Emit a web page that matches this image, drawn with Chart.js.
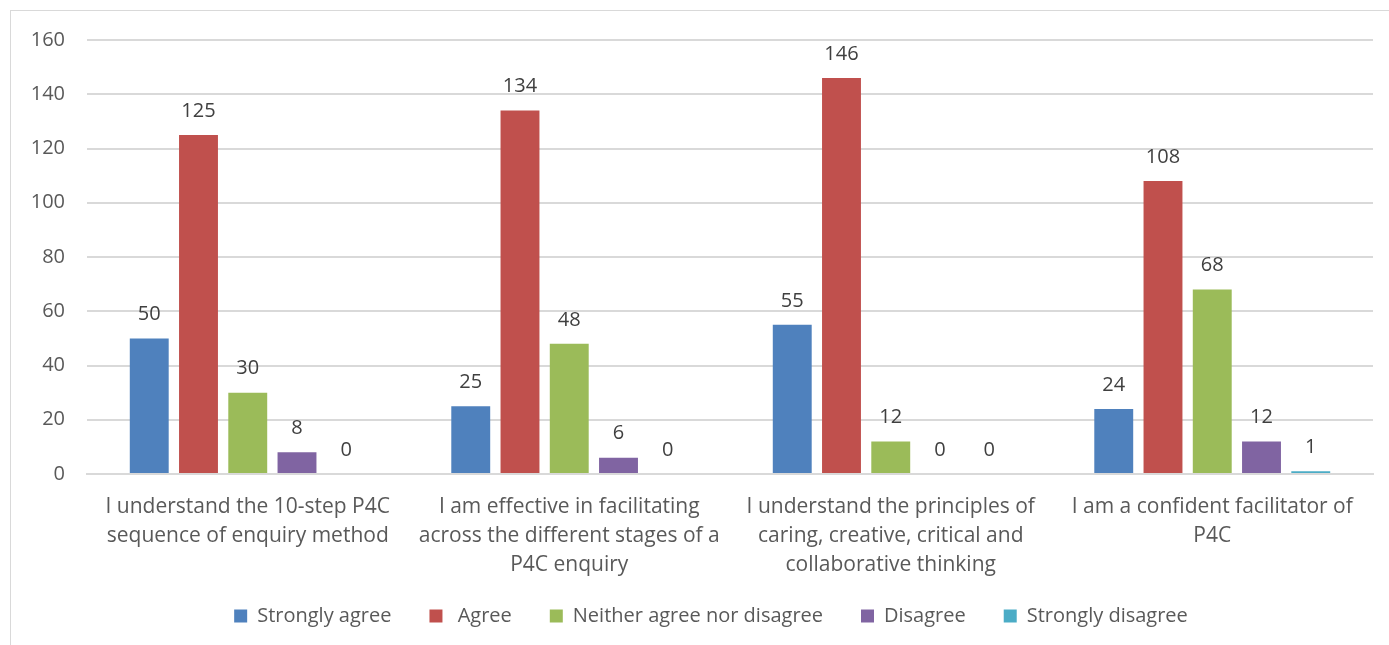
<!DOCTYPE html>
<html><head><meta charset="utf-8">
<script src="https://cdn.jsdelivr.net/npm/chart.js@4"></script>
<style>
html,body{margin:0;padding:0;background:#fff;}
#wrap{position:absolute;left:10px;top:10px;width:1379px;height:635px;border:1px solid #d9d9d9;border-right:none;border-bottom:none;box-sizing:border-box;}
canvas{display:block;}
</style></head><body>
<div id="wrap"><canvas id="c"></canvas></div>
<script>
const categories = [
  ["I understand the 10-step P4C","sequence of enquiry method"],
  ["I am effective in facilitating","across the different stages of a","P4C enquiry"],
  ["I understand the principles of","caring, creative, critical and","collaborative thinking"],
  ["I am a confident facilitator of","P4C"]
];
const seriesNames = ["Strongly agree","Agree","Neither agree nor disagree","Disagree","Strongly disagree"];
const stronglyAgree = [50,25,55,24];
const agree = [125,134,146,108];
const neither = [30,48,12,68];
const disagree = [8,6,0,12];
const stronglyDisagree = [0,0,0,1];
const colors = ["#4f81bd","#c0504d","#9bbb59","#8064a2","#4bacc6"];
const yTicks = [0,20,40,60,80,100,120,140,160];

const FONT = "'Open Sans', sans-serif";
const values = [stronglyAgree, agree, neither, disagree, stronglyDisagree];

const labelPlugin = {
  id:'vals',
  afterLayout(chart){
    if (chart.legend) { chart.legend.left += 19; chart.legend.right += 19; }
  },
  beforeDraw(chart){
    if (chart.scales.x) chart.scales.x._computeLabelArea = function(){ return undefined; };
  },
  afterDatasetsDraw(chart){
    const ctx = chart.ctx;
    ctx.save();
    ctx.font = "20px " + FONT;
    ctx.fillStyle = "#404040";
    ctx.textAlign = "center";
    ctx.textBaseline = "bottom";
    chart.data.datasets.forEach((ds,i)=>{
      const meta = chart.getDatasetMeta(i);
      meta.data.forEach((bar,j)=>{
        ctx.fillText(String(ds.data[j]), bar.x, bar.y - 14);
      });
    });
    ctx.restore();
  }
};

new Chart(document.getElementById('c'), {
  type:'bar',
  data:{
    labels: categories,
    datasets: seriesNames.map((n,i)=>({
      label: (i===1 ? " " : "") + n,
      data: values[i],
      backgroundColor: colors[i],
      categoryPercentage: 0.766,
      barPercentage: 0.79
    }))
  },
  options:{
    responsive:true,
    maintainAspectRatio:false,
    animation:false,
    layout:{padding:{left:0,right:16,top:29,bottom:9}},
    plugins:{
      legend:{
        position:'bottom',
        labels:{
          font:{family:FONT,size:20},
          color:'#595959',
          boxWidth:13,
          boxHeight:13,
          padding:38,
          useBorderRadius:false
        }
      },
      tooltip:{enabled:false}
    },
    scales:{
      x:{
        grid:{display:false, drawTicks:false},
        border:{display:true,color:'#d9d9d9',width:2},
        afterFit(s){ s.height = 94; s.paddingLeft = 0; s.paddingRight = 0; },
        ticks:{font:{family:FONT,size:21,lineHeight:1.38},color:'#595959',padding:19, maxRotation:0, autoSkip:false},
      },
      y:{
        min:0,max:160,
        afterBuildTicks(s){ s.ticks = yTicks.map(v=>({value:v})); },
        afterFit(s){ s.width = 76; s.paddingTop = 0; s.paddingBottom = 0; },
        grid:{color:'#d9d9d9',lineWidth:2,drawTicks:false},
        border:{display:false},
        ticks:{font:{family:FONT,size:20},color:'#595959',padding:22}
      }
    }
  },
  plugins:[labelPlugin]
});
</script>
</body></html>
